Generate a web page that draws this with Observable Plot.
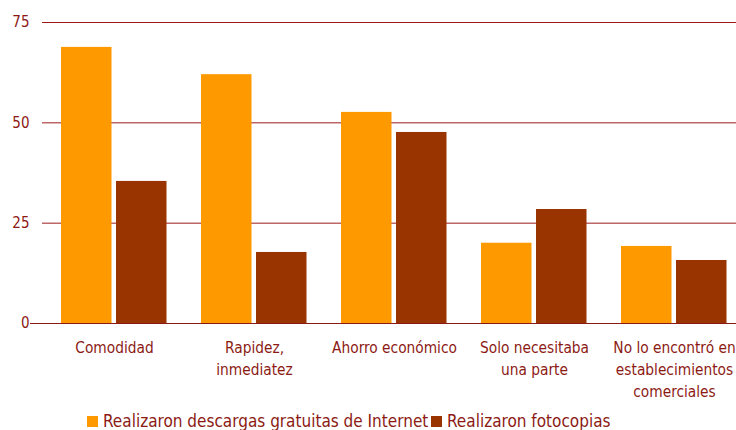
<!DOCTYPE html>
<html>
<head>
<meta charset="utf-8">
<script src="https://cdn.jsdelivr.net/npm/d3@7"></script>
<script src="https://cdn.jsdelivr.net/npm/@observablehq/plot@0.6"></script>
<style>
  html, body { margin: 0; padding: 0; background: #fff; overflow: hidden; }
  #chart { width: 736px; }
  .legend { position: relative; height: 25px; font-family: "DejaVu Sans Condensed", "DejaVu Sans", sans-serif; font-size: 17px; color: #8c1a14; }
  .legend .item { position: absolute; top: 6px; display: flex; align-items: center; white-space: nowrap; }
  .legend .sw { width: 11px; height: 11px; margin-right: 5px; }
</style>
</head>
<body>
<div id="chart"></div>
<script>
const categories = ["Comodidad", "Rapidez,\ninmediatez", "Ahorro económico", "Solo necesitaba\nuna parte", "No lo encontró en\nestablecimientos\ncomerciales"];
const descargas = [68.8, 62.0, 52.6, 20.0, 19.2];
const fotocopias = [35.4, 17.7, 47.6, 28.4, 15.7];
const seriesNames = ["Realizaron descargas gratuitas de Internet", "Realizaron fotocopias"];
const seriesColors = ["#ff9900", "#993300"];
const yTicks = [0, 25, 50, 75];

const textColor = "#8c1a14";
const dataA = categories.map((c, i) => ({cat: c, value: descargas[i]}));
const dataB = categories.map((c, i) => ({cat: c, value: fotocopias[i]}));

const plot = Plot.plot({
  width: 736,
  height: 405,
  marginLeft: 30,
  marginRight: 0,
  marginTop: 22,
  marginBottom: 82,
  style: {fontFamily: "'DejaVu Sans Condensed', 'DejaVu Sans', sans-serif", fontSize: "15px", color: textColor, background: "#fff", overflow: "visible"},
  x: {domain: categories, range: [43, 745.5], paddingInner: 0, paddingOuter: 0, label: null},
  y: {domain: [0, 75], label: null},
  marks: [
    Plot.ruleY(yTicks.filter(d => d > 0), {stroke: "#9b1b1b", strokeWidth: 1, insetLeft: 12}),
    Plot.barY(dataA, {x: "cat", y: "value", fill: seriesColors[0], insetLeft: 17, insetRight: 72.5}),
    Plot.barY(dataB, {x: "cat", y: "value", fill: seriesColors[1], insetLeft: 72, insetRight: 17.5}),
    Plot.ruleY([0], {stroke: "#8c1a14", strokeWidth: 1.2}),
    Plot.axisY({ticks: yTicks, tickSize: 0, tickPadding: 1, label: null, fill: textColor, fontSize: 15}),
    Plot.axisX({tickSize: 0, tickPadding: 14, label: null, fill: textColor, fontSize: 15.3, lineHeight: 1.43})
  ]
});
document.getElementById("chart").appendChild(plot);

const legend = document.createElement("div");
legend.className = "legend";
const lefts = [87, 431];
seriesNames.forEach((name, i) => {
  const item = document.createElement("div");
  item.className = "item";
  item.style.left = lefts[i] + "px";
  const sw = document.createElement("span");
  sw.className = "sw";
  sw.style.background = seriesColors[i];
  const t = document.createElement("span");
  t.textContent = name;
  item.appendChild(sw);
  item.appendChild(t);
  legend.appendChild(item);
});
document.getElementById("chart").appendChild(legend);
</script>
</body>
</html>
